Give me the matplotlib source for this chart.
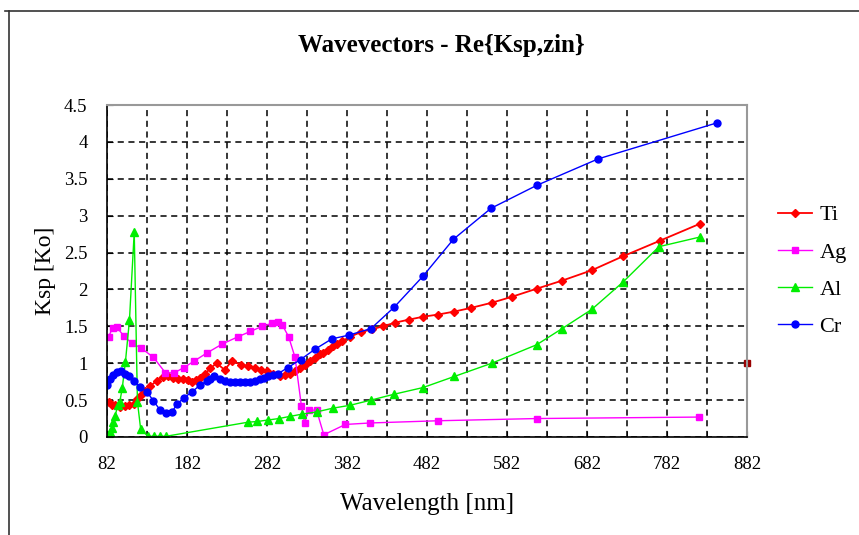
import numpy as np
import matplotlib
matplotlib.use("Agg")
import matplotlib.pyplot as plt
from matplotlib.lines import Line2D

plt.rcParams['font.family'] = ['Liberation Serif', 'DejaVu Serif']

# --- data (wavelength nm, Re{Ksp}) ---
ti_nm = [84, 88, 92, 98, 104, 110, 116, 119, 124, 130, 136, 144, 152, 158, 165, 171, 177, 183, 188, 193,
         198, 205, 211, 219, 229, 238, 250, 258, 267, 274, 282, 290, 298, 305, 311, 317, 323, 329, 336,
         342, 348, 352, 358, 365, 370, 376, 386, 399, 413, 427, 442, 459, 477, 496, 516, 537, 563, 588,
         619, 651, 688, 727, 773, 823]
ti_k = [0.47, 0.44, 0.43, 0.41, 0.42, 0.43, 0.45, 0.52, 0.57, 0.63, 0.69, 0.76, 0.81, 0.82, 0.80, 0.79,
        0.78, 0.77, 0.75, 0.77, 0.80, 0.86, 0.93, 1.00, 0.91, 1.03, 0.98, 0.96, 0.94, 0.91, 0.89, 0.86,
        0.83, 0.84, 0.86, 0.89, 0.94, 0.98, 1.03, 1.07, 1.12, 1.14, 1.18, 1.23, 1.26, 1.30, 1.36, 1.42,
        1.46, 1.50, 1.55, 1.59, 1.63, 1.66, 1.70, 1.75, 1.82, 1.90, 2.01, 2.12, 2.26, 2.45, 2.66, 2.89]

ag_nm = [84, 89, 94, 103, 113, 124, 140, 155, 166, 178, 191, 207, 226, 246, 261, 276, 288, 296, 301,
         309, 317, 325, 329, 334, 344, 353, 380, 411, 496, 619, 822]
ag_k = [1.36, 1.48, 1.49, 1.37, 1.27, 1.21, 1.08, 0.87, 0.87, 0.94, 1.03, 1.14, 1.26, 1.36, 1.43,
        1.50, 1.54, 1.56, 1.52, 1.36, 1.08, 0.42, 0.19, 0.37, 0.36, 0.03, 0.17, 0.19, 0.22, 0.25, 0.27]

al_nm = [84, 86, 88, 90, 92, 96, 98, 101, 105, 110, 116, 120, 124, 133, 141, 148, 156, 258, 270, 283,
         297, 311, 326, 344, 364, 386, 412, 441, 477, 516, 563, 619, 651, 688, 727, 772, 823]
al_k = [0.02, 0.07, 0.12, 0.2, 0.29, 0.44, 0.48, 0.66, 1.02, 1.58, 2.78, 0.48, 0.11, 0.01, 0.01,
        0.01, 0.01, 0.20, 0.21, 0.23, 0.25, 0.28, 0.31, 0.34, 0.39, 0.43, 0.50, 0.58, 0.67, 0.82, 1.00,
        1.25, 1.47, 1.73, 2.10, 2.58, 2.71]

cr_nm = [82, 86, 90, 95, 99, 104, 110, 116, 123, 132, 140, 148, 156, 163, 170, 178, 188, 198, 207,
         211, 216, 223, 229, 236, 242, 248, 255, 261, 267, 273, 278, 283, 290, 296, 308, 324, 342, 363,
         384, 412, 441, 477, 515, 562, 619, 696, 845]
cr_k = [0.70, 0.79, 0.84, 0.88, 0.89, 0.86, 0.82, 0.76, 0.68, 0.61, 0.49, 0.37, 0.33, 0.34, 0.45,
        0.53, 0.61, 0.70, 0.76, 0.79, 0.82, 0.79, 0.76, 0.75, 0.74, 0.74, 0.75, 0.75, 0.76, 0.78, 0.80,
        0.82, 0.84, 0.86, 0.94, 1.05, 1.19, 1.33, 1.38, 1.47, 1.76, 2.18, 2.68, 3.10, 3.41, 3.77, 4.26]

stray_nm = [882]
stray_k = [1.0]

x_ticks = [82, 182, 282, 382, 482, 582, 682, 782, 882]
y_ticks = [0, 0.5, 1, 1.5, 2, 2.5, 3, 3.5, 4, 4.5]

fig = plt.figure(figsize=(8.59, 5.35), dpi=100)
ax = fig.add_axes([0.1246, 0.1832, 0.745, 0.6205])

# outer chart border (only top and left visible in the crop)
fig.add_artist(Line2D([0.006, 1.0], [0.980, 0.980], color='#333333', lw=1.2))
fig.add_artist(Line2D([0.0105, 0.0105], [0.0, 0.980], color='#333333', lw=1.2))

ax.plot(ti_nm, ti_k, color='#FF0000', lw=1.3, marker='D', ms=4.5, mec='#FF0000', label='Ti')
ax.plot(ag_nm, ag_k, color='#FF00FF', lw=1.0, marker='s', ms=5, label='Ag')
ax.plot(al_nm, al_k, color='#00EE00', lw=1.0, marker='^', ms=5.5, label='Al')
ax.plot(cr_nm, cr_k, color='#0000FF', lw=1.0, marker='o', ms=5, label='Cr')
ax.plot(stray_nm, stray_k, ls='none', marker='s', ms=4, color='#990000', clip_on=False)

ax.set_xlim(82, 882)
ax.set_ylim(0, 4.5)
ax.set_xticks(x_ticks)
ax.set_xticks(np.arange(82, 883, 50), minor=True)
ax.set_yticks(y_ticks)
ax.set_yticklabels(['0', '0.5', '1', '1.5', '2', '2.5', '3', '3.5', '4', '4.5'])
ax.tick_params(axis='both', which='both', direction='in', labelsize=13.5)
ax.tick_params(axis='x', which='both', length=4, pad=14)
ax.tick_params(axis='y', length=4, pad=14)
ax.grid(True, which='both', color='black', ls=(0, (4, 3)), lw=1.1)

for s in ['top', 'right']:
    ax.spines[s].set_color('#999999')
    ax.spines[s].set_linewidth(1.5)
for s in ['left', 'bottom']:
    ax.spines[s].set_color('black')
    ax.spines[s].set_linewidth(1.2)

ax.set_xlabel('Wavelength [nm]', fontsize=18, labelpad=14)
ax.set_ylabel('Ksp [Ko]', fontsize=17, labelpad=6)
fig.text(0.514, 0.915, 'Wavevectors - Re{Ksp,zin}', ha='center', va='center',
         fontsize=18, fontweight='bold')

ax.legend(loc='center left', bbox_to_anchor=(1.035, 0.5), frameon=False, fontsize=16,
          handlelength=1.5, handletextpad=0.35, labelspacing=0.75, borderaxespad=0)

fig.savefig('out.png', dpi=100)
